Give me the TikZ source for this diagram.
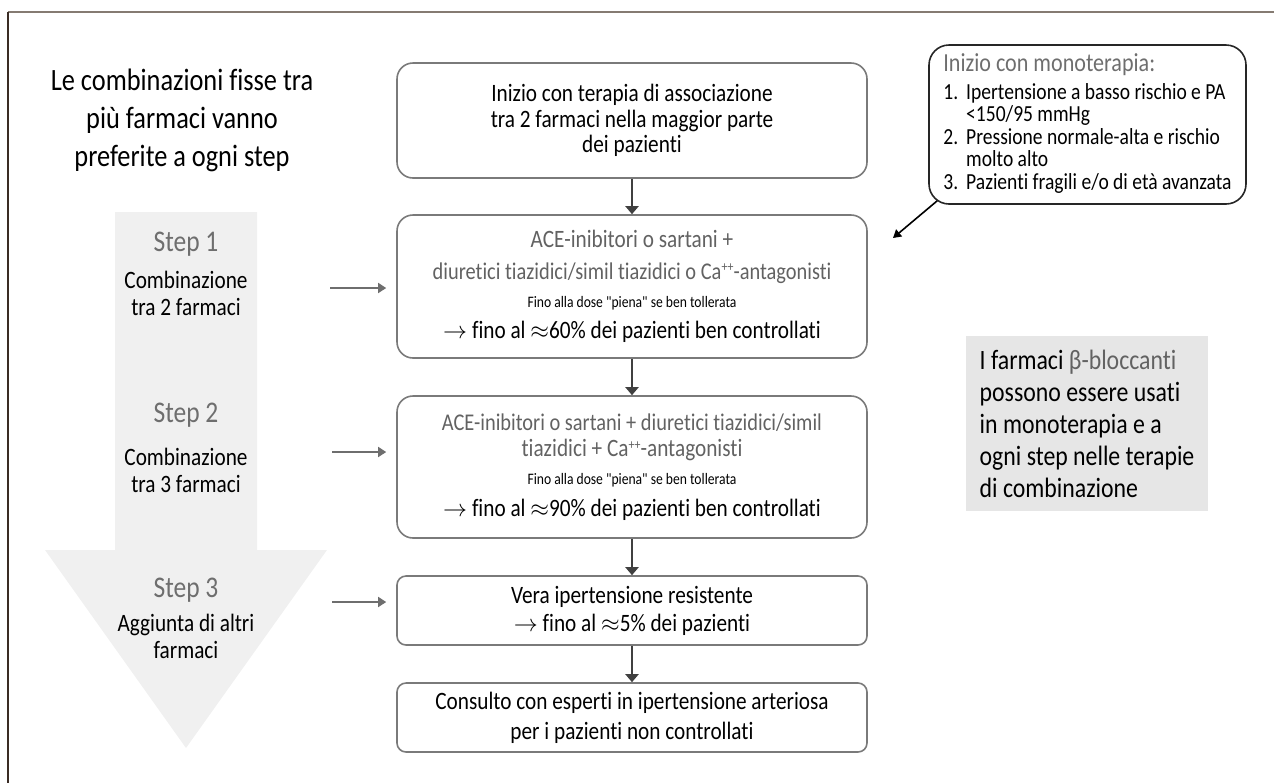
\documentclass[tikz,border=0pt]{standalone}
\usepackage{fontspec}
\setmainfont[FakeStretch=0.85,Ligatures={NoCommon,TeXOff}]{Carlito}
\usetikzlibrary{arrows.meta}

\definecolor{boxline}{HTML}{7A7A7A}
\definecolor{flowgrey}{HTML}{404040}
\definecolor{stepgrey}{HTML}{6E6E6E}
\definecolor{softgrey}{HTML}{626262}
\definecolor{arrowfill}{HTML}{F0F0F0}
\definecolor{notefill}{HTML}{E6E6E6}
\definecolor{topframe}{HTML}{857B72}
\definecolor{leftframe}{HTML}{3A2C24}

\newcommand{\caplus}{\raisebox{3.8pt}{\fontsize{7}{7}\selectfont ++}}

\begin{document}
\begin{tikzpicture}[x=0.5pt,y=-0.5pt,
   box/.style={draw=boxline,line width=0.8pt,rounded corners=8pt,align=center,
      inner sep=0pt,minimum width=235pt,font=\fontsize{12.5}{12.6}\selectfont},
   smallbox/.style={box,rounded corners=4.5pt},
   flow/.style={draw=flowgrey,line width=1pt,-{Triangle[length=4pt,width=6.5pt]}},
   stepar/.style={draw=stepgrey,line width=0.8pt,-{Triangle[length=4pt,width=5pt]},shorten >=5pt},
   steptitle/.style={text=stepgrey,font=\fontsize{15}{16}\selectfont},
   stepdesc/.style={align=center,font=\fontsize{12.5}{13.5}\selectfont}]
         \useasboundingbox (0,0) rectangle (1274,783) ;
         % frame
         \draw[topframe,line width=1pt] (8,12) -- (1274,12) ;
         \draw[leftframe,line width=1pt] (8,12) -- (8,783) ;
         % big grey arrow of the steps
         \fill[arrowfill] (115,212) -- (257,212) -- (257,550) -- (327,550)
            -- (186,748) -- (45,550) -- (115,550) -- cycle ;
         \node[align=center,font=\fontsize{15.5}{19}\selectfont] (fisse) at (182,120)
            {Le combinazioni fisse tra\\più farmaci vanno\\preferite a ogni step} ;
         \node[steptitle] (st1) at (186,244) {Step 1} ;
         \node[stepdesc] (sd1) at (186,293) {Combinazione\\tra 2 farmaci} ;
         \node[steptitle] (st2) at (186,415) {Step 2} ;
         \node[stepdesc] (sd2) at (186,470) {Combinazione\\tra 3 farmaci} ;
         \node[steptitle] (st3) at (186,590) {Step 3} ;
         \node[stepdesc] (sd3) at (186,636) {Aggiunta di altri\\farmaci} ;
         % flow of the therapy
         \node[box,minimum height=57.5pt] (b1) at (632,120.5)
            {Inizio con terapia di associazione\\tra 2 farmaci nella maggior parte\\dei pazienti} ;
         \node[box,minimum height=71.5pt] (b2) at (632,286.5)
            {{\color{softgrey}ACE-inibitori o sartani +}\\[3pt]
             {\color{softgrey}\fontsize{12}{12.6}\selectfont diuretici tiazidici/simil tiazidici o Ca\caplus-antagonisti}\\[1.5pt]
             {\fontsize{8}{9}\selectfont Fino alla dose "piena" se ben tollerata}\\[3pt]
             {\fontsize{12.5}{13}\selectfont $\rightarrow$ fino al $\approx$60\% dei pazienti ben controllati}} ;
         \node[box,minimum height=71pt] (b3) at (632,467)
            {{\color{softgrey}\fontsize{12}{12.6}\selectfont ACE-inibitori o sartani + diuretici tiazidici/simil}\\[0.5pt]
             {\color{softgrey}tiazidici + Ca\caplus-antagonisti}\\[1.5pt]
             {\fontsize{8}{9}\selectfont Fino alla dose "piena" se ben tollerata}\\[3pt]
             {\fontsize{12.5}{13}\selectfont $\rightarrow$ fino al $\approx$90\% dei pazienti ben controllati}} ;
         \node[smallbox,minimum height=34.5pt] (b4) at (632,610.5)
            {Vera ipertensione resistente\\[1.5pt]$\rightarrow$ fino al $\approx$5\% dei pazienti} ;
         \node[smallbox,minimum height=34.5pt] (b5) at (632,717.5)
            {Consulto con esperti in ipertensione arteriosa\\[2.5pt]per i pazienti non controllati} ;
         \draw[flow] (b1) -- (b2) ;
         \draw[flow] (b2) -- (b3) ;
         \draw[flow] (b3) -- (b4) ;
         \draw[flow] (b4) -- (b5) ;
         % step arrows
         \coordinate (a1) at (330,288) ;
         \coordinate (a2) at (332,452) ;
         \coordinate (a3) at (332,602) ;
         \draw[stepar] (a1) -- (a1 -| b2.west) ;
         \draw[stepar] (a2) -- (a2 -| b3.west) ;
         \draw[stepar] (a3) -- (a3 -| b4.west) ;
         % monotherapy
         \node[draw=black!85,line width=0.8pt,rounded corners=10pt,inner sep=0pt,
            minimum width=158.5pt,minimum height=79.5pt,font=\fontsize{11.5}{10.8}\selectfont]
            (mono) at (1087.5,124.5)
            {\begin{tabular}{@{}l@{\hspace{4pt}}l@{}}
             \multicolumn{2}{@{}l@{}}{\color{stepgrey}\fontsize{13}{13}\selectfont Inizio con monoterapia:}\\[3pt]
             1. & Ipertensione a basso rischio e PA\\
                & <150/95 mmHg\\
             2. & Pressione normale-alta e rischio\\
                & molto alto\\
             3. & Pazienti fragili e/o di età avanzata
             \end{tabular}} ;
         \coordinate (monoend) at (893,238) ;
         \draw[black,line width=0.8pt,-{Triangle[length=4pt,width=4.5pt]}]
            ([shift={(4.5pt,2pt)}]mono.south west) -- (monoend) ;
         % beta-blockers note
         \node[fill=notefill,align=left,inner sep=0pt,minimum width=121pt,minimum height=87.5pt,
            font=\fontsize{14}{16}\selectfont] (note) at (1087,423.5)
            {I farmaci {\color{softgrey}β-bloccanti}\\possono essere usati\\in monoterapia e a\\ogni step nelle terapie\\di combinazione} ;
      \end{tikzpicture}
\end{document}
